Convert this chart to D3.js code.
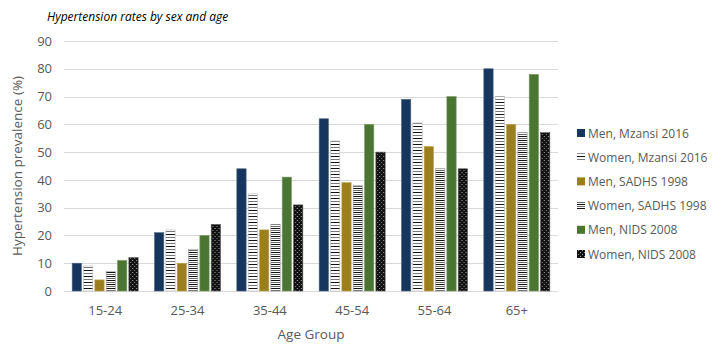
<!DOCTYPE html>
<html><head><meta charset="utf-8">
<script src="https://cdn.jsdelivr.net/npm/d3@7/dist/d3.min.js"></script>
<style>body{margin:0;background:#fff;}svg{display:block;font-family:"Open Sans",sans-serif;}</style>
</head><body>
<script>
const categories = ["15-24","25-34","35-44","45-54","55-64","65+"];
const seriesNames = ["Men, Mzansi 2016","Women, Mzansi 2016","Men, SADHS 1998","Women, SADHS 1998","Men, NIDS 2008","Women, NIDS 2008"];
const menMzansi = [10,21,44,62,69,80];
const womenMzansi = [9,22,35,54,60.5,70];
const menSADHS = [4,10,22,39,52,60];
const womenSADHS = [7,15,24,38,44,57];
const menNIDS = [11,20,41,60,70,78];
const womenNIDS = [12,24,31,50,44,57];
const yTicks = [0,10,20,30,40,50,60,70,80,90];
const values = [menMzansi,womenMzansi,menSADHS,womenSADHS,menNIDS,womenNIDS];

const W=720,H=358;
const svg=d3.select("body").append("svg").attr("width",W).attr("height",H);
const defs=svg.append("defs");
let p1=defs.append("pattern").attr("id","p1").attr("patternUnits","userSpaceOnUse").attr("width",4).attr("height",6);
p1.append("rect").attr("width",4).attr("height",6).attr("fill","#fff");
p1.append("rect").attr("y",0).attr("width",4).attr("height",1).attr("fill","#111");
p1.append("rect").attr("y",3).attr("width",4).attr("height",1).attr("fill","#777");
let p2=defs.append("pattern").attr("id","p2").attr("patternUnits","userSpaceOnUse").attr("width",4).attr("height",4);
p2.append("rect").attr("width",4).attr("height",4).attr("fill","#fff");
p2.append("rect").attr("y",0).attr("width",4).attr("height",1).attr("fill","#111");
p2.append("rect").attr("y",2).attr("width",4).attr("height",1).attr("fill","#666");
let p3=defs.append("pattern").attr("id","p3").attr("patternUnits","userSpaceOnUse").attr("width",4).attr("height",4);
p3.append("rect").attr("width",4).attr("height",4).attr("fill","#111");
p3.append("rect").attr("x",0).attr("y",0).attr("width",1).attr("height",1).attr("fill","#aaa");
p3.append("rect").attr("x",2).attr("y",2).attr("width",1).attr("height",1).attr("fill","#888");

const fills=["#17365D","url(#p1)","#9B7F1F","url(#p2)","#4A7532","url(#p3)"];
const strokes=["#4a6585","#bbb","#c0a550","#999","#7a9a62","#555"];

const x0=d3.scaleBand().domain(categories).range([64,558]);
const x1=d3.scaleBand().domain(d3.range(6)).range([0,66]).paddingInner(0.18);
const y=d3.scaleLinear().domain([0,90]).range([291,41]);

const g=svg.append("g");
g.selectAll("line.grid").data(yTicks).join("line")
 .attr("x1",64).attr("x2",558).attr("y1",d=>Math.round(y(d))+0.5).attr("y2",d=>Math.round(y(d))+0.5)
 .attr("stroke","#d9d9d9").attr("stroke-width",1);

const yAxis=d3.axisLeft(y).tickValues(yTicks).tickSize(0).tickPadding(0);
const ya=svg.append("g").attr("transform","translate(52,0)").call(yAxis);
ya.select(".domain").remove();
ya.selectAll("text").attr("fill","#595959").style("font-size","13px").style("font-family","Open Sans");

const groups=g.selectAll("g.grp").data(categories).join("g")
 .attr("transform",c=>`translate(${x0(c)+x0.bandwidth()/2-33},0)`);
groups.each(function(c,ci){
  d3.select(this).selectAll("rect").data(values.map((v,si)=>({si,v:v[ci]}))).join("rect")
   .attr("x",d=>x1(d.si)).attr("width",x1.bandwidth())
   .attr("y",d=>y(d.v)).attr("height",d=>y(0)-y(d.v))
   .attr("fill",d=>fills[d.si]).attr("stroke",d=>strokes[d.si]).attr("stroke-width",0.6);
});

const xAxis=d3.axisBottom(x0).tickSize(0).tickPadding(0);
const xa=svg.append("g").attr("transform","translate(0,306)").call(xAxis);
xa.select(".domain").remove();
xa.selectAll("text").attr("fill","#595959").style("font-size","13px").style("font-family","Open Sans");

svg.append("text").attr("x",311).attr("y",339).attr("text-anchor","middle")
 .attr("fill","#595959").style("font-size","13.5px").text("Age Group");
svg.append("text").attr("transform","translate(22,166) rotate(-90)").attr("text-anchor","middle")
 .attr("fill","#595959").style("font-size","13.5px").text("Hypertension prevalence (%)");
svg.append("text").attr("x",47).attr("y",21)
 .attr("fill","#000").style("font-size","12px").style("font-style","italic").text("Hypertension rates by sex and age");

const lg=svg.append("g");
seriesNames.forEach((n,i)=>{
  const yy=133+i*24.2;
  lg.append("rect").attr("x",577).attr("y",yy-4).attr("width",8).attr("height",8)
   .attr("fill",fills[i]);
  lg.append("text").attr("x",588).attr("y",yy+4.5).attr("fill","#595959").style("font-size","12px").text(n);
});
</script>
</body></html>
